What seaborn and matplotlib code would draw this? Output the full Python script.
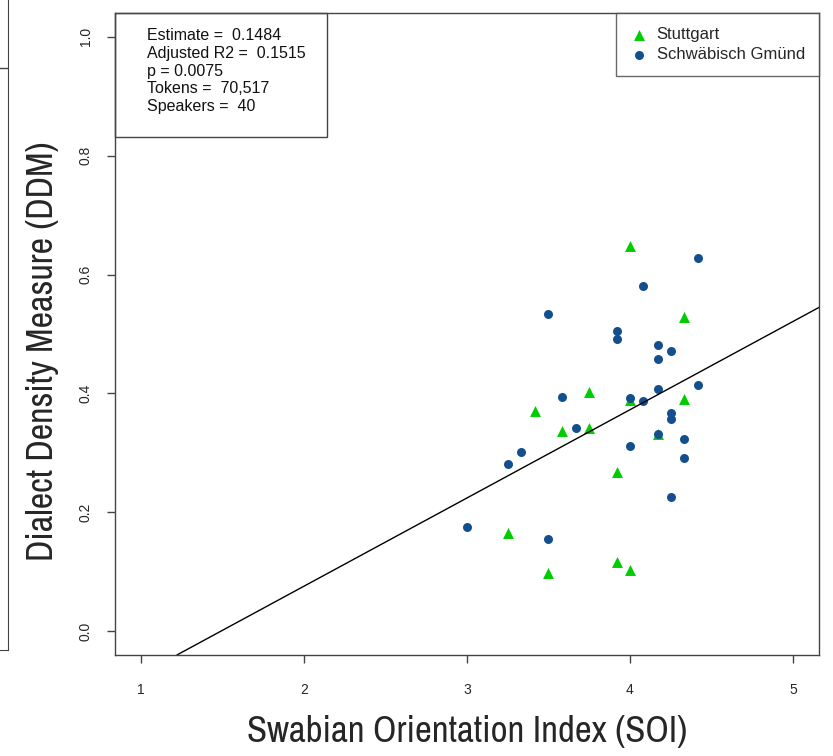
import numpy as np
import pandas as pd
import matplotlib.pyplot as plt
from matplotlib.patches import Rectangle
import seaborn as sns

sns.set_style('white')
plt.rcParams['font.family'] = ['Liberation Sans', 'DejaVu Sans']

# values
stuttgart_soi = [4.0, 4.33, 4.0, 4.33, 4.17, 3.92, 3.92, 4.0, 3.75, 3.42, 3.58, 3.75, 3.25, 3.5]
stuttgart_ddm = [0.648, 0.529, 0.389, 0.391, 0.332, 0.268, 0.116, 0.103, 0.402, 0.370, 0.337, 0.342, 0.165, 0.098]

gmuend_soi = [4.42, 4.08, 3.92, 3.92, 4.17, 4.25, 4.17, 4.17, 4.42, 4.0, 4.08, 4.25, 4.25,
              4.17, 4.33, 4.0, 4.33, 4.25, 3.5, 3.58, 3.67, 3.33, 3.25, 3.0, 3.5]
gmuend_ddm = [0.628, 0.581, 0.505, 0.492, 0.481, 0.471, 0.458, 0.407, 0.414, 0.392, 0.387, 0.367, 0.357,
              0.332, 0.323, 0.311, 0.291, 0.226, 0.534, 0.394, 0.342, 0.301, 0.281, 0.175, 0.155]

estimate = 0.1484
intercept = -0.221
stats_lines = ['Estimate =  0.1484', 'Adjusted R2 =  0.1515', 'p = 0.0075',
               'Tokens =  70,517', 'Speakers =  40']

df_s = pd.DataFrame({'soi': stuttgart_soi, 'ddm': stuttgart_ddm})
df_g = pd.DataFrame({'soi': gmuend_soi, 'ddm': gmuend_ddm})

green = '#00cd00'
blue = '#134f8c'
ink = '#444444'
# first installed one wins
narrow = ['Liberation Sans Narrow', 'Arial Narrow', 'Archivo Narrow', 'Roboto Condensed',
          'Sofia Sans Semi Condensed', 'Liberation Sans']

fig = plt.figure(figsize=(8.33, 7.56), dpi=100)

# bit of the neighbouring panel that got cut off at the left edge
ax0 = fig.add_axes([-0.5, 0.140, 0.5 + 8 / 833, 0.9])
ax0.set_xticks([])
ax0.set_yticks([])
ax0.set_ylim(0, 1)
for side in ['top', 'left']:
    ax0.spines[side].set_visible(False)
for side in ['right', 'bottom']:
    ax0.spines[side].set_color(ink)
ax0.axhline(0.856, color=ink, lw=1)

ax = fig.add_axes([115 / 833, 101 / 756, 704 / 833, 642 / 756])

sns.scatterplot(data=df_s, x='soi', y='ddm', marker='^', color=green, s=62,
                linewidth=0, label='Stuttgart', ax=ax)
sns.scatterplot(data=df_g, x='soi', y='ddm', marker='o', color=blue, s=42,
                linewidth=0, label='Schwäbisch Gmünd', ax=ax)
ax.axline((0, intercept), slope=estimate, color='black', lw=1)

ax.set_xlim(0.84, 5.16)
ax.set_ylim(-0.04, 1.04)
ax.set_xticks([1, 2, 3, 4, 5])
ax.set_yticks([0.0, 0.2, 0.4, 0.6, 0.8, 1.0])
ax.set_xticklabels(['1', '2', '3', '4', '5'])
ax.set_yticklabels(['0.0', '0.2', '0.4', '0.6', '0.8', '1.0'], rotation=90, va='center')
ax.tick_params(axis='both', direction='out', length=6, width=1, color=ink,
               labelsize=10, left=True, bottom=True)
ax.tick_params(axis='x', pad=14)
ax.tick_params(axis='y', pad=10)
for sp in ax.spines.values():
    sp.set_color(ink)
    sp.set_linewidth(1)

ax.set_xlabel('Swabian Orientation Index (SOI)', fontsize=26.5, family=narrow, labelpad=13)
ax.set_ylabel('Dialect Density Measure (DDM)', fontsize=26, family=narrow)
ax.yaxis.set_label_coords(-0.079, 0.473)

# statistics box in the top left corner
box_w = (327 - 115) / 704
box_h = (137 - 13) / 642
ax.add_patch(Rectangle((0, 1 - box_h), box_w, box_h, transform=ax.transAxes,
                       fill=False, edgecolor=ink, lw=1, clip_on=False))
ax.text(32 / 704, 1 - 15 / 642, '\n'.join(stats_lines), transform=ax.transAxes,
        ha='left', va='top', fontsize=11.5, linespacing=1.23, color='#111111')

leg = ax.legend(loc='upper right', borderaxespad=0, fancybox=False, frameon=True,
                fontsize=12, handletextpad=0.5, borderpad=0.85, labelspacing=0.3,
                handlelength=1.1)
leg.get_frame().set_edgecolor(ink)
leg.get_frame().set_linewidth(1)

fig.savefig('out.png', dpi=100)
